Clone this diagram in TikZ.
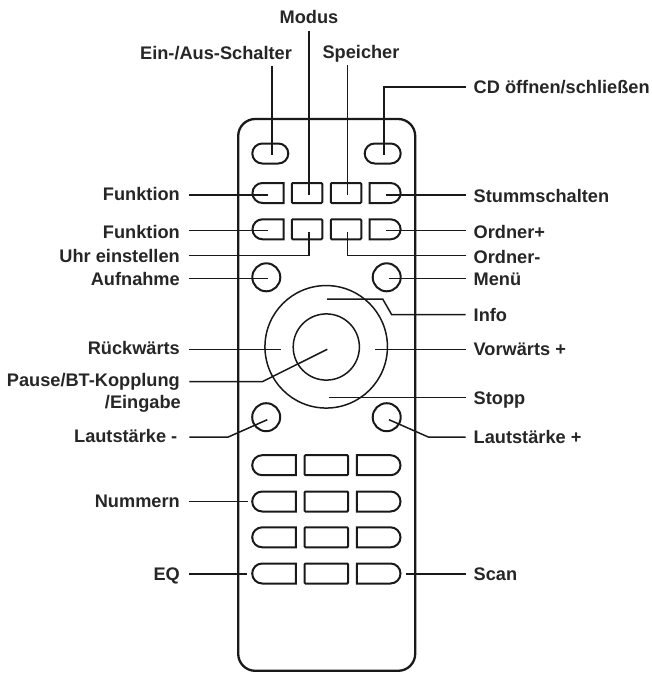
\documentclass[tikz,border=0pt]{standalone}
\usepackage{fontspec}
\setmainfont{Liberation Sans}
\usetikzlibrary{shapes.misc}
\begin{document}
\begin{tikzpicture}[x=1pt,y=-1pt,
  btn/.style={draw=black!90,line width=2pt,inner sep=0pt,minimum height=20pt},
  lpill/.style={btn,rounded rectangle,rounded rectangle right arc=none,minimum width=#1},
  rpill/.style={btn,rounded rectangle,rounded rectangle left arc=none,minimum width=#1},
  pill/.style={btn,rounded rectangle,minimum width=36pt},
  sq/.style={btn,rectangle,rounded corners=1pt,minimum width=#1},
  rnd/.style={draw=black!90,line width=2pt,circle,inner sep=0pt,minimum size=28pt},
  ring/.style={draw=black!90,line width=1.5pt,circle,inner sep=0pt},
  lab/.style={font=\bfseries\fontsize{18.2pt}{18.2pt}\selectfont,text=black!85,text height=13pt,text depth=0pt,inner ysep=0pt,inner xsep=0pt},
  ll/.style={lab,anchor=east,inner xsep=9.3pt},
  rl/.style={lab,anchor=west,inner xsep=7.8pt},
  tl/.style={lab,anchor=center,inner ysep=6.8pt},
  lead/.style={draw=black!90,line width=1.5pt}]
\useasboundingbox (0,0) rectangle (652,673);
% body
\draw[black!90,line width=2.3pt,rounded corners=17pt] (238.2,119) -- (415.2,119) -- (415.2,670.8) -- (238.2,670.8) -- cycle;
% buttons
\node[pill] (pw) at (270.3,153.5) {};
\node[pill] (cd) at (382.7,153.5) {};
\foreach \y/\r in {193/a,229.3/b}{
  \node[lpill=31pt] (\r1) at (268,\y) {};
  \node[sq=30.5pt] (\r2) at (307,\y) {};
  \node[sq=30.5pt] (\r3) at (346,\y) {};
  \node[rpill=31pt] (\r4) at (385.1,\y) {};
}
\foreach \y/\r in {465.2/c,501.5/d,537.3/e,573.5/f}{
  \node[lpill=43.6pt] (\r1) at (274,\y) {};
  \node[sq=43.6pt] (\r2) at (326.3,\y) {};
  \node[rpill=43.6pt] (\r3) at (378.7,\y) {};
}
\node[rnd] (auf) at (266.3,277.3) {};
\node[rnd] (men) at (386.7,277.3) {};
\node[rnd] (lm) at (266.2,417.2) {};
\node[rnd] (lp) at (386.7,417.2) {};
\node[ring,minimum size=122.5pt] (outer) at (326.2,346.8) {};
\node[ring,minimum size=66.2pt] (inner) at (326.3,347) {};
% labels
\node[tl] (tmod) at (309,17.3) {Modus};
\node[tl] (tein) at (216,52.7) {Ein-/Aus-Schalter};
\node[tl] (tspe) at (361,51.7) {Speicher};
\node[rl] (tcd) at (465.7,86.7) {CD öffnen/schließen};
\node[ll] (tf1) at (189.3,194) {Funktion};
\node[ll] (tf2) at (189.3,231.5) {Funktion};
\node[ll] (tuhr) at (189.3,256) {Uhr einstellen};
\node[ll] (tauf) at (189.3,278.7) {Aufnahme};
\node[ll] (trw) at (189.3,348) {Rückwärts};
\node[ll] (tpau) at (189.3,380) {Pause/BT-Kopplung};
\node[ll] (teing) at (190.3,402) {/Eingabe};
\node[ll,inner xsep=11.8pt] (tlm) at (189.3,436) {Lautstärke -};
\node[ll] (tnum) at (189.3,501) {Nummern};
\node[ll] (teq) at (189.3,574) {EQ};
\node[rl] (tstu) at (465.7,196) {Stummschalten};
\node[rl] (to1) at (465.7,232) {Ordner+};
\node[rl] (to2) at (465.7,256.7) {Ordner-};
\node[rl] (tmen) at (465.7,279) {Menü};
\node[rl] (tinf) at (465.7,314.5) {Info};
\node[rl] (tvor) at (465.7,349) {Vorwärts +};
\node[rl] (tsto) at (465.7,398) {Stopp};
\node[rl] (tlp) at (465.7,437) {Lautstärke +};
\node[rl] (tsca) at (465.7,574) {Scan};
% free ends of the leaders
\coordinate (epw) at (272,155);
\coordinate (ecd) at (384,155);
\coordinate (cdk) at (384,87);
\coordinate (emod) at (309,194.7);
\coordinate (espe) at (347.3,195);
\coordinate (ef1) at (268,195);
\coordinate (est) at (386,195);
\coordinate (ef2) at (268,230.7);
\coordinate (eo1) at (386,230.7);
\coordinate (euhr) at (309,231.7);
\coordinate (kuhr) at (309,255.3);
\coordinate (eo2) at (347.3,231.7);
\coordinate (ko2) at (347.3,255.3);
\coordinate (eauf) at (267.7,278.7);
\coordinate (emen) at (388.7,278.7);
\coordinate (einf) at (327,299);
\coordinate (kinf1) at (382.7,299);
\coordinate (kinf2) at (391.7,314.7);
\coordinate (erw) at (280.7,349.3);
\coordinate (evw) at (375,349.3);
\coordinate (epau) at (327.3,349.3);
\coordinate (kpau) at (262.3,381.7);
\coordinate (esto) at (329,397.7);
\coordinate (elm) at (267.3,419.7);
\coordinate (klm) at (228.3,437);
\coordinate (elp) at (389,419.7);
\coordinate (klp) at (428.3,437);
\coordinate (enum) at (248,501.3);
\coordinate (eeq) at (246.7,574);
\coordinate (esc) at (406,574);
% leaders
\draw[lead] (epw |- tein.south) -- (epw);
\draw[lead] (emod |- tmod.south) -- (emod);
\draw[lead] (espe |- tspe.south) -- (espe);
\draw[lead] (tcd.west |- cdk) -- (cdk) -- (ecd);
\draw[lead] (tf1.east |- ef1) -- (ef1);
\draw[lead] (tstu.west |- est) -- (est);
\draw[lead] (tf2.east |- ef2) -- (ef2);
\draw[lead] (to1.west |- eo1) -- (eo1);
\draw[lead] (tuhr.east |- kuhr) -- (kuhr) -- (euhr);
\draw[lead] (to2.west |- ko2) -- (ko2) -- (eo2);
\draw[lead] (tauf.east |- eauf) -- (eauf);
\draw[lead] (tmen.west |- emen) -- (emen);
\draw[lead] (tinf.west |- kinf2) -- (kinf2) -- (kinf1) -- (einf);
\draw[lead] (trw.east |- erw) -- (erw);
\draw[lead] (tvor.west |- evw) -- (evw);
\draw[lead] (tpau.east |- kpau) -- (kpau) -- (epau);
\draw[lead] (tsto.west |- esto) -- (esto);
\draw[lead] (tlm.east |- klm) -- (klm) -- (elm);
\draw[lead] (tlp.west |- klp) -- (klp) -- (elp);
\draw[lead] (tnum.east |- enum) -- (enum);
\draw[lead] (teq.east |- eeq) -- (eeq);
\draw[lead] (tsca.west |- esc) -- (esc);
\end{tikzpicture}
\end{document}
